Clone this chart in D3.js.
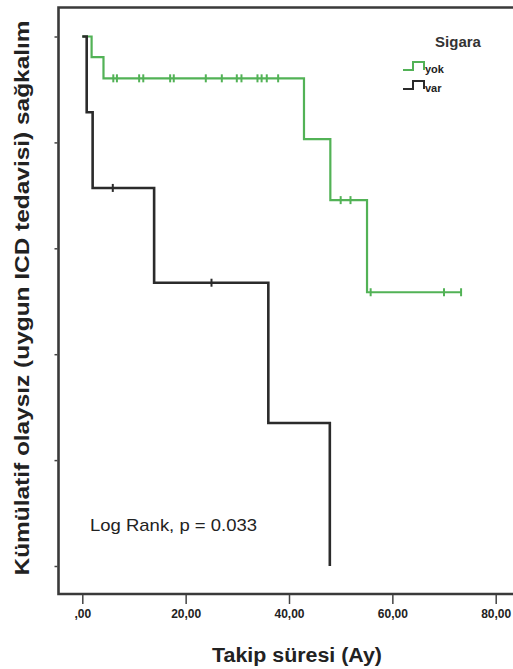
<!DOCTYPE html>
<html>
<head>
<meta charset="utf-8">
<script src="https://cdn.jsdelivr.net/npm/d3@7"></script>
<style>
  html, body { margin: 0; padding: 0; background: #fff; }
  svg { display: block; }
</style>
</head>
<body>
<div id="chart"></div>
<script>
// ---- data ----
const groups = ["yok", "var"];
const groupColors = ["#52b256", "#2b2b2b"];
// events: time (months) and survival after the drop
const yokEventTimes = [1.8, 4.1, 42.9, 48.0, 55.1];
const yokEventSurv  = [0.961, 0.921, 0.806, 0.691, 0.517];
const yokCensorTimes = [6.0, 6.7, 11.0, 11.8, 17.0, 17.7, 23.9, 27.0, 29.9, 30.8, 33.9, 34.7, 35.7, 37.9, 50.0, 51.9, 55.8, 70.0, 73.3];
const varEventTimes = [0.85, 2.0, 13.9, 36.0, 47.9];
const varEventSurv  = [0.857, 0.714, 0.535, 0.270, 0.0];
const varCensorTimes = [5.9, 25.0];
const xTicks = [0, 20, 40, 60, 80];
const xTickLabels = [",00", "20,00", "40,00", "60,00", "80,00"];
const yTicks = [0, 0.2, 0.4, 0.6, 0.8, 1.0];
const yTitle = "Kümülatif olaysız (uygun ICD tedavisi) sağkalım";
const xTitle = "Takip süresi (Ay)";
const legendTitle = "Sigara";
const annotation = "Log Rank, p = 0.033";

// ---- layout ----
const W = 513, H = 669;
const svg = d3.select("#chart").append("svg").attr("width", W).attr("height", H);

const x = d3.scaleLinear().domain([0, 80]).range([82.3, 495.7]);
const y = d3.scaleLinear().domain([0, 1]).range([566, 36.5]);
const frameLeft = 58.5, frameTop = 7.5, frameBottom = 594;

// frame
svg.append("path")
  .attr("d", `M${W + 5},${frameTop} H${frameLeft} V${frameBottom} H${W + 5}`)
  .attr("fill", "none").attr("stroke", "#3a3a3a").attr("stroke-width", 2.6);

// y axis ticks (no labels)
const yAxis = d3.axisLeft(y).tickValues(yTicks).tickSize(3).tickFormat("");
svg.append("g").attr("transform", `translate(${frameLeft - 1},0)`).call(yAxis)
  .call(g => g.select(".domain").remove())
  .call(g => g.selectAll("line").attr("stroke", "#444").attr("stroke-width", 1.5));

// x axis
const xAxis = d3.axisBottom(x).tickValues(xTicks).tickSize(9)
  .tickFormat((d, i) => xTickLabels[i]);
svg.append("g").attr("transform", `translate(0,${frameBottom + 1})`).call(xAxis)
  .call(g => g.select(".domain").remove())
  .call(g => g.selectAll("line").attr("stroke", "#444").attr("stroke-width", 1.5))
  .call(g => g.selectAll("text")
    .attr("y", 14)
    .attr("fill", "#222")
    .style("font-family", "'Liberation Sans Narrow','Liberation Sans',Arial,sans-serif")
    .style("font-weight", "bold").style("font-size", "12px"));

// survival step builder
function stepPoints(evT, evS, cens) {
  const pts = [[0, 1]];
  let s = 1;
  evT.forEach((t, i) => { pts.push([t, s]); s = evS[i]; pts.push([t, s]); });
  const lastT = d3.max([...evT, ...cens]);
  if (lastT > evT[evT.length - 1]) pts.push([lastT, s]);
  return pts;
}
function survAt(evT, evS, t) {
  let s = 1;
  evT.forEach((et, i) => { if (et <= t) s = evS[i]; });
  return s;
}
const line = d3.line().x(d => x(d[0])).y(d => y(d[1]));

const series = [
  { ev: yokEventTimes, sv: yokEventSurv, cens: yokCensorTimes, color: groupColors[0], w: 2.2 },
  { ev: varEventTimes, sv: varEventSurv, cens: varCensorTimes, color: groupColors[1], w: 2.6 }
];
series.forEach(sr => {
  svg.append("path").datum(stepPoints(sr.ev, sr.sv, sr.cens))
    .attr("d", line).attr("fill", "none")
    .attr("stroke", sr.color).attr("stroke-width", sr.w).attr("stroke-linejoin", "miter");
  svg.append("g").selectAll("line").data(sr.cens).join("line")
    .attr("x1", d => x(d)).attr("x2", d => x(d))
    .attr("y1", d => y(survAt(sr.ev, sr.sv, d)) - 4)
    .attr("y2", d => y(survAt(sr.ev, sr.sv, d)) + 4)
    .attr("stroke", sr.color).attr("stroke-width", 2);
});

// legend
const lg = svg.append("g");
lg.append("text").attr("x", 458).attr("y", 47).attr("text-anchor", "middle")
  .style("font-family", "'Liberation Sans Narrow','Liberation Sans',Arial,sans-serif")
  .style("font-weight", "bold").style("font-size", "15px").attr("fill", "#333")
  .text(legendTitle);
groups.forEach((gname, i) => {
  const yy = 70 + i * 19;
  lg.append("path")
    .attr("d", `M403,${yy} H413 V${yy - 8} H424 V${yy}`)
    .attr("fill", "none").attr("stroke", groupColors[i]).attr("stroke-width", 2);
  lg.append("text").attr("x", 425).attr("y", yy + 3)
    .style("font-family", "'Liberation Sans Narrow','Liberation Sans',Arial,sans-serif")
    .style("font-weight", "bold").style("font-size", "11px").attr("fill", "#222")
    .text(gname);
});

// annotation
svg.append("text").attr("x", 90).attr("y", 531)
  .style("font-family", "'Liberation Sans',Arial,sans-serif")
  .style("font-size", "17px").attr("fill", "#222")
  .attr("textLength", 167).attr("lengthAdjust", "spacingAndGlyphs")
  .text(annotation);

// axis titles
svg.append("text").attr("transform", "translate(29,298) rotate(-90)")
  .attr("text-anchor", "middle")
  .style("font-family", "'Liberation Sans',Arial,sans-serif")
  .style("font-weight", "bold").style("font-size", "20px").attr("fill", "#222")
  .attr("textLength", 555).attr("lengthAdjust", "spacingAndGlyphs")
  .text(yTitle);
svg.append("text").attr("x", 297).attr("y", 662).attr("text-anchor", "middle")
  .style("font-family", "'Liberation Sans',Arial,sans-serif")
  .style("font-weight", "bold").style("font-size", "20px").attr("fill", "#222")
  .attr("textLength", 170).attr("lengthAdjust", "spacingAndGlyphs")
  .text(xTitle);
</script>
</body>
</html>
